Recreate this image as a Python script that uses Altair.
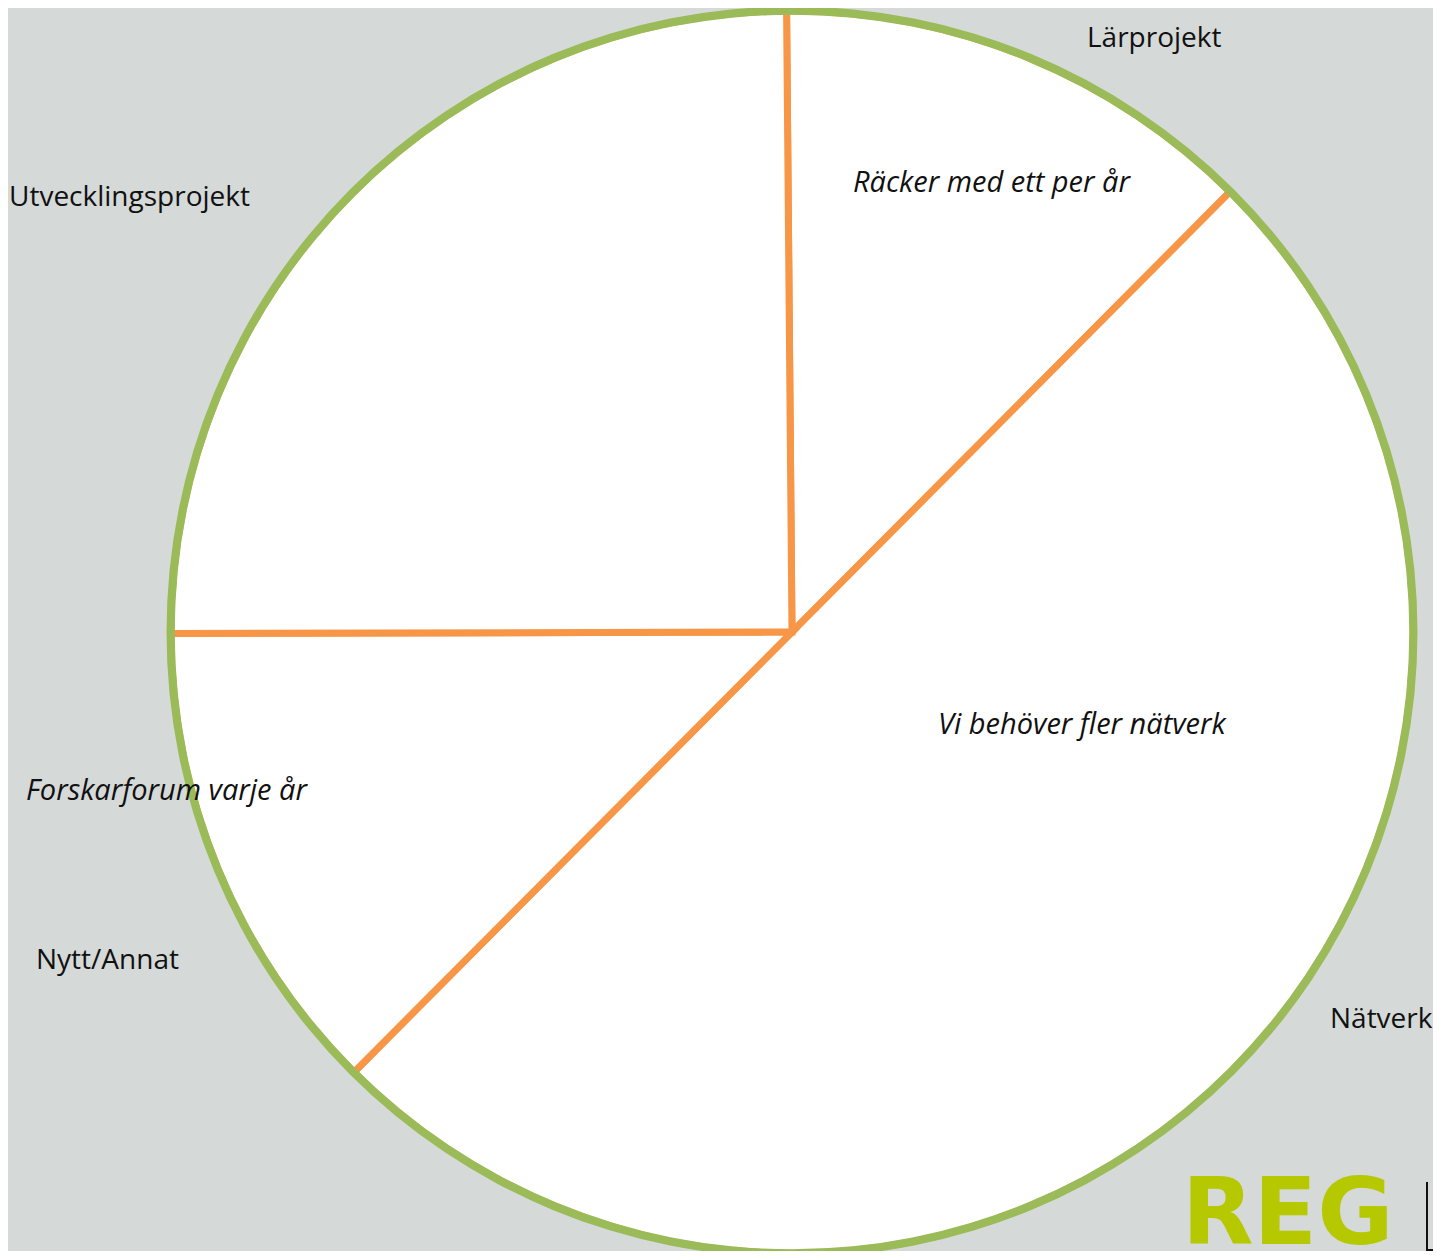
import math
import altair as alt
import pandas as pd

# ---- data ----
categories = ["Lärprojekt", "Nätverk", "Nytt/Annat", "Utvecklingsprojekt"]
shares = [12.6, 50.0, 12.5, 24.9]
notes = ["Räcker med ett per år", "Vi behöver fler nätverk", "Forskarforum varje år"]
logo_text = ["REG"]

# ---- layout (page px minus the 8px margin) ----
W, H = 1425, 1243
CX, CY = 784, 624
R_PIE = 621
R_RING_OUT, R_RING_IN = 625.5, 617.3
OFFSET = math.radians(-0.5)

# same order as categories
label_x = [1079, 1322, 28, 1]
label_y = [31, 1012, 953, 190]
note_x = [845, 930, 18]
note_y = [175, 717, 783]

BG = "#D5D9D8"
ORANGE = "#F79646"
GREEN = "#9BBB59"
LOGO_GREEN = "#B5C800"
FONT = "Open Sans"

pie_df = pd.DataFrame({"category": categories, "value": shares, "order": list(range(len(categories)))})
labels_df = pd.DataFrame({"label": categories, "lx": label_x, "ly": label_y})
notes_df = pd.DataFrame({"note": notes, "nx": note_x, "ny": note_y})
logo_df = pd.DataFrame({"t": logo_text})

pie = alt.Chart(pie_df).mark_arc(
    fill="white", stroke=ORANGE, strokeWidth=7, strokeJoin="miter", radius=R_PIE
).encode(
    theta=alt.Theta("value:Q", stack=True,
                    scale=alt.Scale(range=[OFFSET, 2 * math.pi + OFFSET])),
    order=alt.Order("order:Q"),
    x=alt.value(CX),
    y=alt.value(CY),
)

ring = alt.Chart(logo_df).mark_arc(
    fill=GREEN, radius=R_RING_OUT, radius2=R_RING_IN, theta=0, theta2=2 * math.pi
).encode(x=alt.value(CX), y=alt.value(CY))

labels = alt.Chart(labels_df).mark_text(
    align="left", baseline="middle", font=FONT, fontSize=28, color="#111111"
).encode(
    x=alt.X("lx:Q", scale=None), y=alt.Y("ly:Q", scale=None), text="label:N"
)

notes_layer = alt.Chart(notes_df).mark_text(
    align="left", baseline="middle", font=FONT, fontSize=29, fontStyle="italic", color="#111111"
).encode(
    x=alt.X("nx:Q", scale=None), y=alt.Y("ny:Q", scale=None), text="note:N"
)

logo = alt.Chart(logo_df).mark_text(
    align="left", baseline="alphabetic", font="DejaVu Sans", fontSize=93, fontWeight="bold",
    color=LOGO_GREEN
).encode(x=alt.value(1174), y=alt.value(1236), text="t:N")

bracket_v = alt.Chart(logo_df).mark_rule(color="#111111", strokeWidth=2).encode(
    x=alt.value(1419), y=alt.value(1174), y2=alt.value(1243)
)
bracket_h = alt.Chart(logo_df).mark_rule(color="#111111", strokeWidth=2).encode(
    x=alt.value(1419), x2=alt.value(1425), y=alt.value(1242)
)

chart = alt.layer(pie, ring, labels, notes_layer, logo, bracket_v, bracket_h).properties(
    width=W, height=H, background=BG,
    autosize=alt.AutoSizeParams(type="none"), padding=0
).configure_view(strokeWidth=0)

chart.save("out.html", embed_options={"renderer": "svg", "actions": False})
